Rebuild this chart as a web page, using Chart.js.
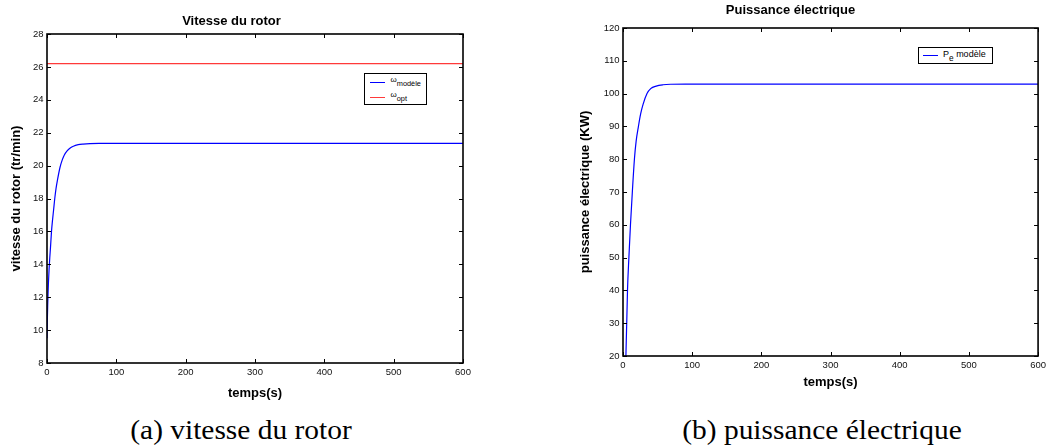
<!DOCTYPE html>
<html>
<head>
<meta charset="utf-8">
<script src="https://cdn.jsdelivr.net/npm/chart.js@4/dist/chart.umd.min.js"></script>
<style>
html,body{margin:0;padding:0;background:#fff;}
body{width:1050px;height:447px;position:relative;overflow:hidden;font-family:"Liberation Sans",Arial,sans-serif;}
canvas{position:absolute;top:0;}
.leg{position:absolute;border:1.3px solid #000;background:#fff;box-sizing:border-box;color:#000;font-family:"Liberation Sans",Arial,sans-serif;}
.leg .ln{position:absolute;height:1px;}
.leg .tx{position:absolute;white-space:nowrap;line-height:10px;}
.leg .sb{position:relative;top:3.5px;font-size:0.92em;}
.cap{position:absolute;top:417px;width:400px;text-align:center;font-family:"Liberation Serif","Times New Roman",serif;font-size:27px;line-height:27px;white-space:nowrap;color:#000;transform:scaleX(1.09);transform-origin:center;}
</style>
</head>
<body>
<canvas id="c1" width="480" height="412" style="left:0px"></canvas>
<canvas id="c2" width="510" height="400" style="left:540px"></canvas>
<div class="cap" style="left:41px">(a) vitesse du rotor</div>
<div class="cap" style="left:622px">(b) puissance électrique</div>
<script>
// ---- data ----
const tOmega = [0, 0.5, 1, 1.5, 2, 3, 4, 5, 6.5, 8, 9.5, 11.2, 13, 15, 18.8, 22, 25, 29, 33.5, 38, 45, 52, 62, 75, 100, 600];
const omegaModele = [9.5, 10.6, 11.5, 12.2, 12.8, 13.7, 14.4, 15.0, 16.0, 16.7, 17.3, 18.0, 18.6, 19.1, 19.9, 20.35, 20.65, 20.9, 21.07, 21.18, 21.27, 21.31, 21.34, 21.35, 21.35, 21.35];
const tOpt = [0, 600];
const omegaOpt = [26.2, 26.2];

const tPower = [0, 2, 4.2, 6.5, 8.5, 10.8, 13.5, 16.5, 19, 22.3, 25.5, 29, 34.7, 40, 48, 58, 69, 90, 600];
const pModele = [9, 14, 20, 40, 50, 60, 70, 80, 85.5, 90, 93.8, 96.7, 100, 101.5, 102.3, 102.7, 102.85, 102.9, 102.9];

const omegaLabels = ['ω_{modèle}', 'ω_{opt}'];
const powerLabels = ['P_e modèle'];
const titles = ['Vitesse du rotor', 'Puissance électrique'];
const xTitle = 'temps(s)';
const yTitles = ['vitesse du rotor (tr/min)', 'puissance électrique (KW)'];
const captions = ['(a) vitesse du rotor', '(b) puissance électrique'];

const omegaRange = [8, 28, 2];
const powerRange = [20, 120, 10];
const timeRange = [0, 600, 100];

// ---- helpers ----
const pts = (xs, ys) => xs.map((x, i) => ({x, y: ys[i]}));
Chart.defaults.font.family = '"Liberation Sans", Arial, sans-serif';

const boxTicks = {
  id: 'boxTicks',
  afterDatasetsDraw(chart) {
    const {ctx, chartArea: a, scales: {x, y}} = chart;
    const L = 4;
    ctx.save();
    ctx.strokeStyle = '#000';
    ctx.lineWidth = 1;
    ctx.beginPath();
    x.ticks.forEach(t => {
      const p = Math.round(x.getPixelForValue(t.value)) + 0.5;
      ctx.moveTo(p, a.bottom); ctx.lineTo(p, a.bottom - L);
      ctx.moveTo(p, a.top); ctx.lineTo(p, a.top + L);
    });
    y.ticks.forEach(t => {
      const p = Math.round(y.getPixelForValue(t.value)) + 0.5;
      ctx.moveTo(a.left, p); ctx.lineTo(a.left + L, p);
      ctx.moveTo(a.right, p); ctx.lineTo(a.right - L, p);
    });
    ctx.stroke();
    ctx.lineWidth = 1.6;
    ctx.strokeRect(a.left, a.top, a.right - a.left, a.bottom - a.top);
    ctx.restore();
  }
};

function makeOptions(o) {
  return {
    responsive: false,
    animation: false,
    devicePixelRatio: 1,
    layout: {padding: {left: 0, right: o.padRight, top: 0, bottom: 0}},
    plugins: {
      legend: {display: false},
      tooltip: {enabled: false},
      title: {display: true, text: o.title, color: '#000', font: {size: 13, weight: 'bold'}, padding: o.titlePad}
    },
    elements: {point: {radius: 0}, line: {cubicInterpolationMode: 'monotone'}},
    scales: {
      x: {
        type: 'linear', min: timeRange[0], max: timeRange[1],
        ticks: {stepSize: timeRange[2], color: '#111', font: {size: 9.5}, padding: 4, maxRotation: 0},
        grid: {display: false, drawTicks: false}, border: {display: false},
        title: {display: true, text: xTitle, color: '#000', font: {size: 13, weight: 'bold'}, padding: {top: 0, bottom: o.xTitlePad}},
        afterFit(s) { s.height = o.xH; }
      },
      y: {
        type: 'linear', min: o.yRange[0], max: o.yRange[1],
        ticks: {stepSize: o.yRange[2], color: '#111', font: {size: 9.5}, padding: 3.5},
        grid: {display: false, drawTicks: false}, border: {display: false},
        title: {display: true, text: o.yTitle, color: '#000', font: {size: 13, weight: 'bold'}, padding: {top: o.yTitlePad, bottom: 0}},
        afterFit(s) { s.width = o.yW; }
      }
    }
  };
}

const chart1 = new Chart(document.getElementById('c1'), {
  type: 'line',
  data: {datasets: [
    {label: omegaLabels[0], data: pts(tOmega, omegaModele), borderColor: '#0000ff', borderWidth: 1.2, fill: false},
    {label: omegaLabels[1], data: pts(tOpt, omegaOpt), borderColor: '#ff3a3a', borderWidth: 1.3, fill: false}
  ]},
  options: makeOptions({padRight: 17, title: titles[0], titlePad: {top: 13.9, bottom: 4.5},
    xTitlePad: 10.5, xH: 49, yRange: omegaRange, yTitle: yTitles[0], yTitlePad: 8.2, yW: 47}),
  plugins: [boxTicks]
});

const chart2 = new Chart(document.getElementById('c2'), {
  type: 'line',
  data: {datasets: [
    {label: powerLabels[0], data: pts(tPower, pModele), borderColor: '#0000ff', borderWidth: 1.2, fill: false}
  ]},
  options: makeOptions({padRight: 9, title: titles[1], titlePad: {top: 2.2, bottom: 10.2},
    xTitlePad: 10.2, xH: 44, yRange: powerRange, yTitle: yTitles[1], yTitlePad: 37.2, yW: 83}),
  plugins: [boxTicks]
});

// ---- MATLAB-style legends (HTML, built from the datasets) ----
function texify(s) {
  return s.replace(/_\{([^}]*)\}/g, '<span class="sb">$1</span>').replace(/_(\S)/g, '<span class="sb">$1</span>');
}
function makeLegend(chart, canvasLeft, box) {
  const div = document.createElement('div');
  div.className = 'leg';
  div.style.left = (canvasLeft + box.left) + 'px';
  div.style.top = box.top + 'px';
  div.style.width = box.w + 'px';
  div.style.height = box.h + 'px';
  chart.data.datasets.forEach((ds, i) => {
    const ln = document.createElement('div');
    ln.className = 'ln';
    ln.style.left = box.lineX + 'px';
    ln.style.width = box.lineW + 'px';
    ln.style.top = (box.rowY[i]) + 'px';
    ln.style.background = ds.borderColor;
    div.appendChild(ln);
    const tx = document.createElement('div');
    tx.className = 'tx';
    tx.style.left = box.textX + 'px';
    tx.style.top = (box.rowY[i] - box.textDy) + 'px';
    tx.style.fontSize = box.fs + 'px';
    tx.innerHTML = texify(ds.label);
    div.appendChild(tx);
  });
  document.body.appendChild(div);
}
makeLegend(chart1, 0, {left: 364, top: 73, w: 63, h: 32, lineX: 5, lineW: 15, rowY: [8, 23], textX: 25.5, textDy: 7, fs: 8});
makeLegend(chart2, 540, {left: 378, top: 47, w: 75, h: 17, lineX: 4, lineW: 15, rowY: [7], textX: 24, textDy: 6, fs: 9});
</script>
</body>
</html>
